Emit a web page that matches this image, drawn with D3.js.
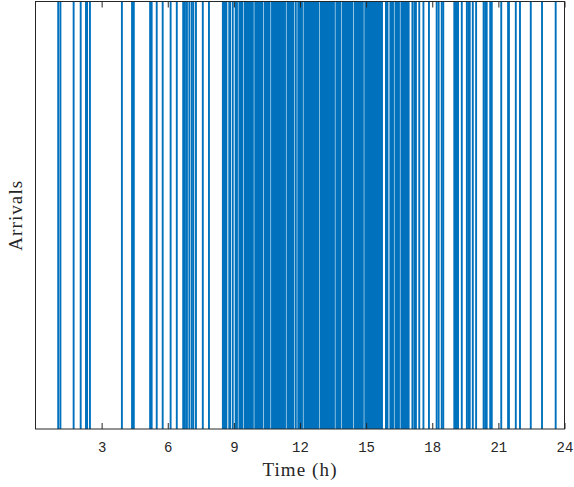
<!DOCTYPE html>
<html>
<head>
<meta charset="utf-8">
<script src="https://cdn.jsdelivr.net/npm/d3@7"></script>
<style>
  html, body { margin: 0; padding: 0; background: #fff; }
  svg { display: block; }
</style>
</head>
<body>
<svg id="chart" width="574" height="487"></svg>
<script>
// ---- data (arrival times in hours) ----
const earlyArrivals = [1.03, 1.13, 1.73, 2.05, 2.29, 2.34, 2.47, 3.92, 4.38, 4.46,
  5.20, 5.27, 5.50, 5.77, 6.13, 6.41, 6.70, 6.78, 6.87, 6.98, 7.09, 7.16, 7.28, 7.59, 7.87];
const peakArrivals = [8.50, 8.54, 8.58, 8.62, 8.66, 8.79, 8.83, 8.95,
  9.08, 9.14,
  9.25, 9.30, 9.34, 9.38,
  9.49, 9.54, 9.58, 9.62, 9.66, 9.70, 9.74, 9.78, 9.82, 9.86,
  9.97, 10.02, 10.06, 10.10, 10.14, 10.18, 10.22, 10.25, 10.29,
  10.40, 10.45, 10.49, 10.53, 10.57, 10.62,
  10.73, 10.78, 10.82, 10.86, 10.90, 10.94, 10.98, 11.02, 11.06, 11.10, 11.14, 11.18, 11.22, 11.26, 11.32,
  11.43, 11.48, 11.52, 11.56, 11.60, 11.64, 11.67, 11.70, 11.81,
  11.92, 11.96, 12.00, 12.04, 12.09,
  12.20, 12.25, 12.29, 12.33, 12.37, 12.41, 12.45, 12.49, 12.53, 12.57, 12.61, 12.65, 12.69, 12.73, 12.77, 12.82,
  12.93, 12.98, 13.02, 13.06, 13.10, 13.14, 13.18, 13.22, 13.26, 13.30, 13.34, 13.38, 13.42, 13.46, 13.50, 13.54,
  13.65, 13.70, 13.74, 13.78, 13.82,
  13.93, 13.98, 14.02, 14.06, 14.10, 14.14, 14.18, 14.22, 14.26, 14.30, 14.33, 14.37,
  14.48, 14.53, 14.57, 14.61, 14.65, 14.69, 14.73, 14.77, 14.81, 14.85,
  14.96, 15.01, 15.05, 15.09, 15.13, 15.17, 15.21, 15.25, 15.29, 15.33, 15.37, 15.41, 15.45, 15.49,
  15.53, 15.57, 15.61, 15.65, 15.69, 15.72,
  15.90, 15.94, 15.97,
  16.10, 16.14, 16.18, 16.22,
  16.33, 16.38, 16.42, 16.45, 16.49,
  16.60, 16.65, 16.69, 16.73, 16.77, 16.81, 16.85, 16.89, 16.93];
const lateArrivals = [17.10, 17.19, 17.26, 17.41, 17.60, 17.85, 18.20, 18.29, 18.43, 18.50,
  19.00, 19.06, 19.12, 19.17, 19.34, 19.57, 19.64, 19.70, 19.84, 19.99,
  20.33, 20.40, 20.47, 20.63, 20.70, 21.13, 21.44, 21.48, 21.79, 21.98, 22.47, 22.98, 23.60];
const xTickValues = [3, 6, 9, 12, 15, 18, 21, 24];
const xLabel = "Time (h)";
const yLabel = "Arrivals";

const arrivals = earlyArrivals.concat(peakArrivals, lateArrivals);

// ---- layout ----
const plotLeft = 35.5, plotRight = 564.5, plotTop = 1.5, plotBottom = 429;
const svg = d3.select("#chart");
const x = d3.scaleLinear().domain([0, 24]).range([plotLeft, plotRight]);
const y = d3.scaleLinear().domain([0, 1]).range([plotBottom, plotTop]);

// arrival lines
svg.append("g")
  .selectAll("line")
  .data(arrivals)
  .join("line")
  .attr("x1", d => x(d)).attr("x2", d => x(d))
  .attr("y1", y(0)).attr("y2", y(1))
  .attr("stroke", "#0072BD")
  .attr("stroke-width", 1.9);

const axisColor = "#262626";

// bottom axis
const gx = svg.append("g")
  .attr("transform", `translate(0,${plotBottom})`)
  .call(d3.axisBottom(x).tickValues(xTickValues).tickSizeInner(-6).tickSizeOuter(0).tickPadding(13).tickFormat(d3.format("d")));
gx.select(".domain").remove();
gx.selectAll(".tick line").attr("stroke", axisColor).attr("stroke-width", 1);
gx.selectAll(".tick text")
  .attr("fill", axisColor)
  .attr("font-family", "'Liberation Mono', 'DejaVu Sans Mono', monospace")
  .attr("font-size", 14);

// top mirrored ticks
const gt = svg.append("g")
  .attr("transform", `translate(0,${plotTop})`)
  .call(d3.axisTop(x).tickValues(xTickValues).tickSizeInner(-6).tickSizeOuter(0).tickFormat(""));
gt.select(".domain").remove();
gt.selectAll(".tick line").attr("stroke", axisColor).attr("stroke-width", 1);

// box
svg.append("rect")
  .attr("x", plotLeft).attr("y", plotTop)
  .attr("width", plotRight - plotLeft).attr("height", plotBottom - plotTop)
  .attr("fill", "none")
  .attr("stroke", axisColor)
  .attr("stroke-width", 1);

// labels
svg.append("text")
  .attr("x", (plotLeft + plotRight) / 2).attr("y", 476)
  .attr("text-anchor", "middle")
  .attr("font-family", "'Liberation Serif', 'DejaVu Serif', serif")
  .attr("font-size", 19)
  .attr("letter-spacing", 1.1)
  .attr("fill", axisColor)
  .text(xLabel);

svg.append("text")
  .attr("transform", `translate(22,${(plotTop + plotBottom) / 2}) rotate(-90)`)
  .attr("text-anchor", "middle")
  .attr("font-family", "'Liberation Serif', 'DejaVu Serif', serif")
  .attr("font-size", 19)
  .attr("letter-spacing", 1.1)
  .attr("fill", axisColor)
  .text(yLabel);
</script>
</body>
</html>
